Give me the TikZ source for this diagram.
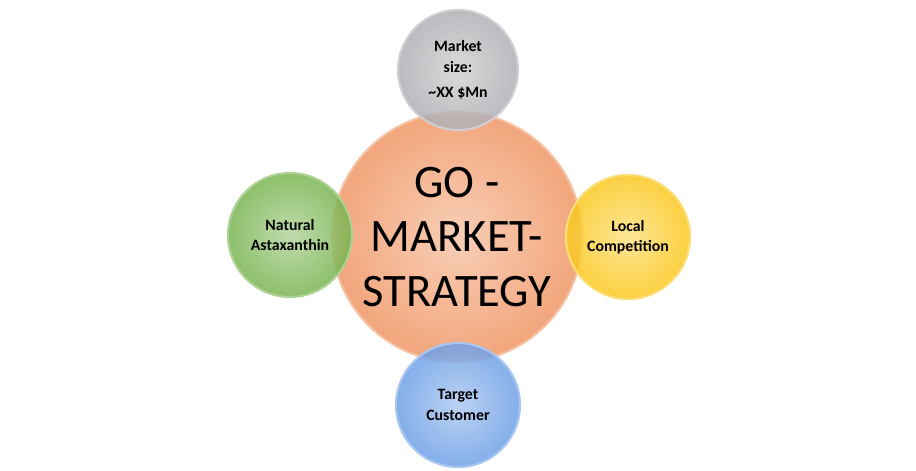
\documentclass[tikz,border=0pt]{standalone}
\usepackage{fontspec}
\setmainfont{Carlito}
\definecolor{coreorange}{RGB}{240,150,100}
\definecolor{sizegray}{RGB}{175,175,180}
\definecolor{prodgreen}{RGB}{120,180,80}
\definecolor{compyellow}{RGB}{250,200,30}
\definecolor{custblue}{RGB}{110,160,230}
\begin{document}
\begin{tikzpicture}[bubble/.style={circle,draw=#1!60!white,line width=1.2pt,inner sep=0pt,
    inner color=#1!55!white,outer color=#1,fill opacity=.85,text opacity=1,align=center,font=\bfseries\fontsize{9}{11.5}\selectfont}]
\useasboundingbox (0,0) rectangle (18.32,-9.4);
\node [bubble=coreorange,minimum size=5cm,font=\fontsize{26.5}{31}\selectfont](core) at (9.14,-4.74) {GO -\\MARKET-\\STRATEGY};
\node [bubble=sizegray,minimum size=2.4cm](size) at (9.16,-1.4) {Market\\size:\\[3pt]\textasciitilde XX \$Mn};
\node [bubble=prodgreen,minimum size=2.48cm](prod) at (5.8,-4.7) {Natural\\Astaxanthin};
\node [bubble=compyellow,minimum size=2.48cm](comp) at (12.56,-4.74) {Local\\Competition};
\node [bubble=custblue,minimum size=2.48cm](cust) at (9.16,-8.1) {Target\\Customer};
\end{tikzpicture}
\end{document}
